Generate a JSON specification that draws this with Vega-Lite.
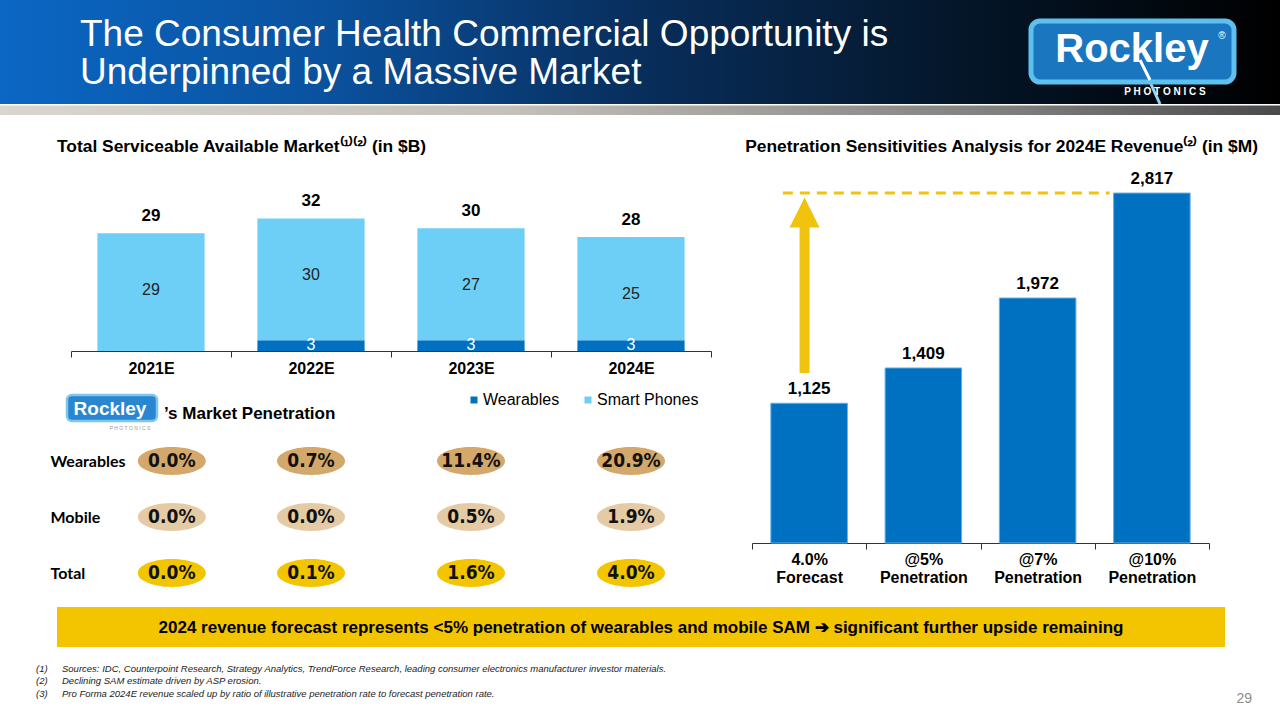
{
  "$schema": "https://vega.github.io/schema/vega-lite/v6.json",
  "width": 1280,
  "height": 720,
  "autosize": {"type": "none"},
  "padding": 0,
  "background": "white",
  "config": {"view": {"stroke": null}, "font": "Liberation Sans", "text": {"font": "Liberation Sans"}},
  "datasets": {
    "sam": [
      {"year": "2021E", "series": "Wearables", "value": 0},
      {"year": "2021E", "series": "Smart Phones", "value": 28.8},
      {"year": "2022E", "series": "Wearables", "value": 2.6},
      {"year": "2022E", "series": "Smart Phones", "value": 29.8},
      {"year": "2023E", "series": "Wearables", "value": 2.6},
      {"year": "2023E", "series": "Smart Phones", "value": 27.4},
      {"year": "2024E", "series": "Wearables", "value": 2.6},
      {"year": "2024E", "series": "Smart Phones", "value": 25.3}
    ],
    "pen": [
      {"year": "2021E", "row": "Wearables", "pct": 0.0},
      {"year": "2021E", "row": "Mobile", "pct": 0.0},
      {"year": "2021E", "row": "Total", "pct": 0.0},
      {"year": "2022E", "row": "Wearables", "pct": 0.007},
      {"year": "2022E", "row": "Mobile", "pct": 0.0},
      {"year": "2022E", "row": "Total", "pct": 0.001},
      {"year": "2023E", "row": "Wearables", "pct": 0.114},
      {"year": "2023E", "row": "Mobile", "pct": 0.005},
      {"year": "2023E", "row": "Total", "pct": 0.016},
      {"year": "2024E", "row": "Wearables", "pct": 0.209},
      {"year": "2024E", "row": "Mobile", "pct": 0.019},
      {"year": "2024E", "row": "Total", "pct": 0.040}
    ],
    "rev": [
      {"scenario": "4.0%|Forecast", "revenue": 1125},
      {"scenario": "@5%|Penetration", "revenue": 1409},
      {"scenario": "@7%|Penetration", "revenue": 1972},
      {"scenario": "@10%|Penetration", "revenue": 2817}
    ]
  },
  "resolve": {
    "scale": {"x": "independent", "y": "independent", "color": "independent"},
    "axis": {"x": "independent", "y": "independent"},
    "legend": {"color": "independent"}
  },
  "layer": [
    {
      "data": {"values": [{}]},
      "mark": {"type": "rect", "x": 0, "x2": 1280, "y": 0, "y2": 104,
        "fill": {"gradient": "linear", "x1": 0, "y1": 0, "x2": 1, "y2": 0,
          "stops": [
            {"offset": 0, "color": "#0B67C4"},
            {"offset": 0.25, "color": "#0A529F"},
            {"offset": 0.5, "color": "#082E5C"},
            {"offset": 0.75, "color": "#041629"},
            {"offset": 1, "color": "#000000"}
          ]}},
      "encoding": {}
    },
    {
      "data": {"values": [{}]},
      "mark": {"type": "rect", "x": 0, "x2": 1280, "y": 105.5, "y2": 115,
        "fill": {"gradient": "linear", "x1": 0, "y1": 0, "x2": 1, "y2": 0,
          "stops": [
            {"offset": 0, "color": "#D9D5CF"},
            {"offset": 0.4, "color": "#C4C0BA"},
            {"offset": 0.8, "color": "#7C7C7C"},
            {"offset": 1, "color": "#4A4A4A"}
          ]}},
      "encoding": {}
    },
    {
      "data": {"values": [{}]},
      "mark": {"type": "text", "x": 80, "y": 46, "align": "left", "baseline": "alphabetic",
        "text": ["The Consumer Health Commercial Opportunity is", "Underpinned by a Massive Market"],
        "fontSize": 37, "lineHeight": 38, "color": "#FFFFFF", "font": "Liberation Sans"},
      "encoding": {}
    },
    {
      "data": {"values": [{}]},
      "mark": {"type": "rule", "color": "#8ED5F6", "strokeWidth": 3},
      "encoding": {"x": {"value": 1140}, "y": {"value": 60}, "x2": {"value": 1160}, "y2": {"value": 104}}
    },
    {
      "data": {"values": [{}]},
      "mark": {"type": "rect", "x": 1031, "x2": 1234, "y": 21, "y2": 82, "cornerRadius": 9,
        "fill": "#1B76C0", "stroke": "#5EC0EF", "strokeWidth": 5},
      "encoding": {}
    },
    {
      "data": {"values": [{}]},
      "mark": {"type": "rule", "color": "#FFFFFF", "strokeWidth": 3},
      "encoding": {"x": {"value": 1140}, "y": {"value": 60}, "x2": {"value": 1150}, "y2": {"value": 80}}
    },
    {
      "data": {"values": [{}]},
      "mark": {"type": "text", "x": 1132, "y": 62, "align": "center", "baseline": "alphabetic",
        "text": "Rockley", "fontSize": 40, "fontWeight": "bold", "color": "#FFFFFF", "font": "Liberation Sans"},
      "encoding": {}
    },
    {
      "data": {"values": [{}]},
      "mark": {"type": "text", "x": 1222, "y": 36, "align": "center", "baseline": "middle",
        "text": "®", "fontSize": 10, "color": "#FFFFFF"},
      "encoding": {}
    },
    {
      "data": {"values": [{}]},
      "mark": {"type": "text", "x": 1165, "y": 92, "align": "center", "baseline": "middle",
        "text": "P H O T O N I C S", "fontSize": 10, "fontWeight": "bold", "color": "#FFFFFF"},
      "encoding": {}
    },
    {
      "data": {"values": [{}]},
      "mark": {"type": "text", "x": 57, "y": 152, "align": "left", "baseline": "alphabetic",
        "text": "Total Serviceable Available Market⁽¹⁾⁽²⁾ (in $B)", "fontSize": 17.4, "fontWeight": "bold", "color": "#000000"},
      "encoding": {}
    },
    {
      "data": {"values": [{}]},
      "mark": {"type": "text", "x": 1258, "y": 152, "align": "right", "baseline": "alphabetic",
        "text": "Penetration Sensitivities Analysis for 2024E Revenue⁽²⁾ (in $M)", "fontSize": 17.4, "fontWeight": "bold", "color": "#000000"},
      "encoding": {}
    },
    {
      "data": {"values": [{}]},
      "mark": {"type": "rect", "x": 67, "x2": 157, "y": 395, "y2": 421, "cornerRadius": 5,
        "fill": "#2A86D0", "stroke": "#7CC8F0", "strokeWidth": 2.5},
      "encoding": {}
    },
    {
      "data": {"values": [{}]},
      "mark": {"type": "text", "x": 110, "y": 415, "align": "center", "baseline": "alphabetic",
        "text": "Rockley", "fontSize": 19, "fontWeight": "bold", "color": "#FFFFFF"},
      "encoding": {}
    },
    {
      "data": {"values": [{}]},
      "mark": {"type": "text", "x": 130, "y": 428, "align": "center", "baseline": "middle",
        "text": "P H O T O N I C S", "fontSize": 5, "color": "#9A9A9A"},
      "encoding": {}
    },
    {
      "data": {"values": [{}]},
      "mark": {"type": "text", "x": 164, "y": 419, "align": "left", "baseline": "alphabetic",
        "text": "’s Market Penetration", "fontSize": 17, "fontWeight": "bold", "color": "#000000"},
      "encoding": {}
    },
    {
      "data": {"values": [{}]},
      "mark": {"type": "rect", "x": 57, "x2": 1225, "y": 607, "y2": 647, "fill": "#F2C500"},
      "encoding": {}
    },
    {
      "data": {"values": [{}]},
      "mark": {"type": "text", "x": 641, "y": 628, "align": "center", "baseline": "middle",
        "text": "2024 revenue forecast represents <5% penetration of wearables and mobile SAM ➔ significant further upside remaining",
        "fontSize": 17, "fontWeight": "bold", "color": "#000000"},
      "encoding": {}
    },
    {
      "data": {"values": [{}]},
      "mark": {"type": "rule", "x": 36, "x2": 153, "y": 660, "y2": 660, "color": "#A0A0A0", "strokeWidth": 1.5},
      "encoding": {}
    },
    {
      "data": {"values": [{}]},
      "mark": {"type": "text", "x": 36, "y": 669, "align": "left", "baseline": "middle",
        "text": ["(1)", "(2)", "(3)"], "lineHeight": 12.3, "fontSize": 9.5, "fontStyle": "italic", "color": "#222222"},
      "encoding": {}
    },
    {
      "data": {"values": [{}]},
      "mark": {"type": "text", "x": 62, "y": 669, "align": "left", "baseline": "middle",
        "text": [
          "Sources: IDC, Counterpoint Research, Strategy Analytics, TrendForce Research, leading consumer electronics manufacturer investor materials.",
          "Declining SAM estimate driven by ASP erosion.",
          "Pro Forma 2024E revenue scaled up by ratio of illustrative penetration rate to forecast penetration rate."
        ],
        "lineHeight": 12.3, "fontSize": 9.5, "fontStyle": "italic", "color": "#222222"},
      "encoding": {}
    },
    {
      "data": {"values": [{}]},
      "mark": {"type": "text", "x": 1252, "y": 699, "align": "right", "baseline": "middle",
        "text": "29", "fontSize": 14, "color": "#8C8C8C"},
      "encoding": {}
    },
    {
      "data": {"name": "sam"},
      "layer": [
        {
          "mark": {"type": "bar", "width": {"band": 0.67}},
          "encoding": {
            "x": {"field": "year", "type": "nominal",
              "scale": {"type": "band", "domain": ["2021E", "2022E", "2023E", "2024E"], "range": [71, 711], "paddingInner": 0, "paddingOuter": 0},
              "axis": {"orient": "bottom", "offset": -369, "title": null, "labelAngle": 0, "labelFont": "Liberation Sans",
                "labelFontWeight": "bold", "labelFontSize": 16, "labelColor": "#000000", "labelPadding": 3,
                "tickBand": "extent", "tickSize": 6, "tickColor": "#333333", "domainColor": "#333333", "grid": false}},
            "y": {"field": "value", "type": "quantitative", "stack": "zero",
              "scale": {"domain": [0, 40], "range": [351, 187.4], "nice": false}, "axis": null},
            "color": {"field": "series", "type": "nominal",
              "scale": {"domain": ["Wearables", "Smart Phones"], "range": ["#0070C0", "#6DCFF6"]},
              "legend": {"orient": "none", "legendX": 466, "legendY": 392, "direction": "horizontal", "title": null,
                "symbolType": "square", "symbolSize": 49, "symbolStrokeWidth": 0, "labelFont": "Liberation Sans",
                "labelFontSize": 16, "labelColor": "#000000", "columnPadding": 20, "labelOffset": 1}},
            "order": {"field": "series", "type": "nominal", "sort": "descending"}
          }
        },
        {
          "transform": [
            {"joinaggregate": [{"op": "sum", "field": "value", "as": "total"}], "groupby": ["year"]},
            {"filter": "datum.series === 'Smart Phones'"}
          ],
          "mark": {"type": "text", "baseline": "middle", "dy": 57, "fontSize": 16, "color": "#222222"},
          "encoding": {
            "x": {"field": "year", "type": "nominal"},
            "y": {"field": "total", "type": "quantitative"},
            "text": {"field": "value", "type": "quantitative", "format": ".0f"}
          }
        },
        {
          "transform": [
            {"joinaggregate": [{"op": "sum", "field": "value", "as": "total"}], "groupby": ["year"]},
            {"filter": "datum.series === 'Smart Phones'"}
          ],
          "mark": {"type": "text", "baseline": "middle", "dy": -17, "fontSize": 17, "fontWeight": "bold", "color": "#000000"},
          "encoding": {
            "x": {"field": "year", "type": "nominal"},
            "y": {"field": "total", "type": "quantitative"},
            "text": {"field": "total", "type": "quantitative", "format": ".0f"}
          }
        },
        {
          "transform": [{"filter": "datum.series === 'Wearables' && datum.value > 0"}],
          "mark": {"type": "text", "baseline": "middle", "dy": 5, "fontSize": 16, "color": "#FFFFFF"},
          "encoding": {
            "x": {"field": "year", "type": "nominal"},
            "y": {"field": "value", "type": "quantitative"},
            "text": {"field": "value", "type": "quantitative", "format": ".0f"}
          }
        }
      ]
    },
    {
      "data": {"name": "pen"},
      "layer": [
        {
          "transform": [{"filter": "datum.year !== '2021E'"}],
          "mark": {"type": "point", "filled": true, "opacity": 1, "size": 4624,
            "shape": "M-1,0C-1,-0.2264,-0.5523,-0.41,0,-0.41C0.5523,-0.41,1,-0.2264,1,0C1,0.2264,0.5523,0.41,0,0.41C-0.5523,0.41,-1,0.2264,-1,0Z"},
          "encoding": {
            "x": {"field": "year", "type": "nominal",
              "scale": {"type": "band", "domain": ["2021E", "2022E", "2023E", "2024E"], "range": [71, 711], "paddingInner": 0, "paddingOuter": 0},
              "axis": null},
            "y": {"field": "row", "type": "nominal",
              "scale": {"type": "point", "domain": ["Wearables", "Mobile", "Total"], "range": [461, 573], "padding": 0},
              "axis": {"orient": "left", "offset": -50, "title": null, "domain": false, "ticks": false, "tickSize": 0,
                "labelAlign": "left", "labelBaseline": "middle", "labelPadding": 0, "labelFont": "Lato",
                "labelFontWeight": "bold", "labelFontSize": 16, "labelColor": "#000000", "grid": false}},
            "color": {"field": "row", "type": "nominal",
              "scale": {"domain": ["Wearables", "Mobile", "Total"], "range": ["#D4A76A", "#E5CAA6", "#F2C500"]},
              "legend": null}
          }
        },
        {
          "transform": [{"filter": "datum.year === '2021E'"}],
          "mark": {"type": "point", "filled": true, "opacity": 1, "size": 4624,
            "shape": "M-1,0C-1,-0.2264,-0.5523,-0.41,0,-0.41C0.5523,-0.41,1,-0.2264,1,0C1,0.2264,0.5523,0.41,0,0.41C-0.5523,0.41,-1,0.2264,-1,0Z"},
          "encoding": {
            "x": {"field": "year", "type": "nominal", "bandPosition": 0.63},
            "y": {"field": "row", "type": "nominal"},
            "color": {"field": "row", "type": "nominal"}
          }
        },
        {
          "transform": [{"filter": "datum.year !== '2021E'"}],
          "mark": {"type": "text", "baseline": "middle", "fontSize": 19, "fontWeight": "bold", "color": "#111111",
            "font": "Liberation Sans Narrow, DejaVu Sans Condensed, sans-serif"},
          "encoding": {
            "x": {"field": "year", "type": "nominal"},
            "y": {"field": "row", "type": "nominal"},
            "text": {"field": "pct", "type": "quantitative", "format": ".1%"}
          }
        },
        {
          "transform": [{"filter": "datum.year === '2021E'"}],
          "mark": {"type": "text", "baseline": "middle", "fontSize": 19, "fontWeight": "bold", "color": "#111111",
            "font": "Liberation Sans Narrow, DejaVu Sans Condensed, sans-serif"},
          "encoding": {
            "x": {"field": "year", "type": "nominal", "bandPosition": 0.63},
            "y": {"field": "row", "type": "nominal"},
            "text": {"field": "pct", "type": "quantitative", "format": ".1%"}
          }
        }
      ]
    },
    {
      "data": {"name": "rev"},
      "layer": [
        {
          "mark": {"type": "bar", "width": {"band": 0.67}, "color": "#0070C0", "stroke": "#6AAEE0", "strokeWidth": 1},
          "encoding": {
            "x": {"field": "scenario", "type": "nominal", "sort": null,
              "scale": {"type": "band", "range": [752, 1209], "paddingInner": 0, "paddingOuter": 0},
              "axis": {"orient": "bottom", "offset": -177, "title": null, "labelAngle": 0,
                "labelExpr": "datum.value ? split(datum.value, '|') : ''", "labelFont": "Liberation Sans", "labelFontWeight": "bold",
                "labelFontSize": 16, "labelColor": "#000000", "labelLineHeight": 18, "labelPadding": 2,
                "tickBand": "extent", "tickSize": 6, "tickColor": "#333333", "domainColor": "#333333", "grid": false}},
            "y": {"field": "revenue", "type": "quantitative",
              "scale": {"domain": [0, 3000], "range": [543, 170.3], "nice": false}, "axis": null}
          }
        },
        {
          "mark": {"type": "text", "baseline": "middle", "dy": -14, "fontSize": 17, "fontWeight": "bold", "color": "#000000"},
          "encoding": {
            "x": {"field": "scenario", "type": "nominal", "sort": null},
            "y": {"field": "revenue", "type": "quantitative"},
            "text": {"field": "revenue", "type": "quantitative", "format": ",.0f"}
          }
        },
        {
          "data": {"values": [{"note": "upside"}]},
          "mark": {"type": "rule", "color": "#F0C30E", "strokeWidth": 3, "strokeDash": [10, 7]},
          "encoding": {
            "x": {"datum": "4.0%|Forecast", "type": "nominal", "bandPosition": 0.27},
            "x2": {"datum": "@10%|Penetration", "bandPosition": 0.13},
            "y": {"datum": 2817, "type": "quantitative"}
          }
        },
        {
          "data": {"values": [{"note": "upside"}]},
          "mark": {"type": "rule", "color": "#F0C30E", "strokeWidth": 10},
          "encoding": {
            "x": {"datum": "4.0%|Forecast", "type": "nominal", "bandPosition": 0.46},
            "y": {"datum": 1368, "type": "quantitative"},
            "y2": {"datum": 2545}
          }
        },
        {
          "data": {"values": [{"note": "upside"}]},
          "mark": {"type": "point", "shape": "M0,-1L1,1L-1,1Z", "size": 900, "filled": true, "opacity": 1, "color": "#F0C30E"},
          "encoding": {
            "x": {"datum": "4.0%|Forecast", "type": "nominal", "bandPosition": 0.46},
            "y": {"datum": 2660, "type": "quantitative"}
          }
        }
      ]
    }
  ]
}
